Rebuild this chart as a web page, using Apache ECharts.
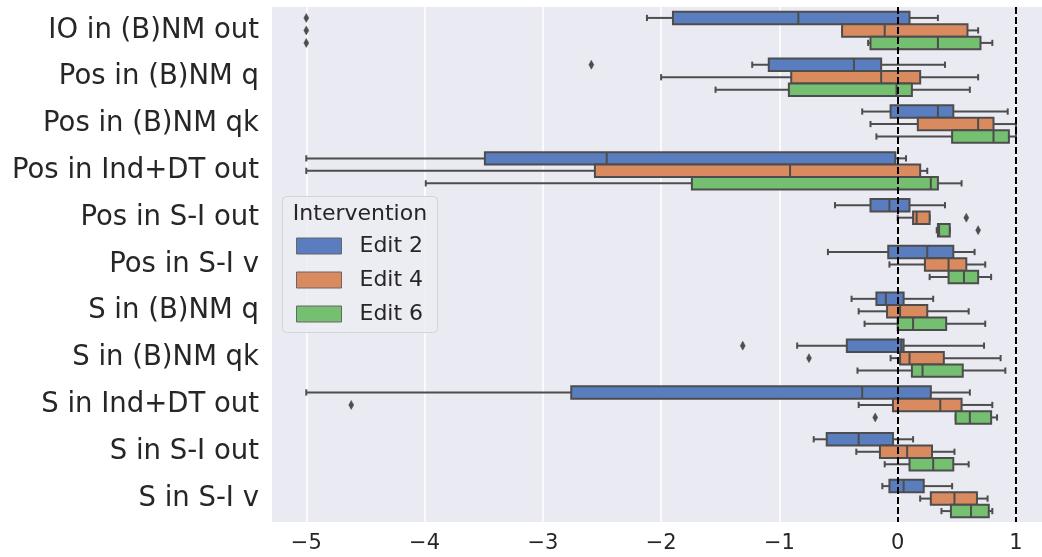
<!DOCTYPE html>
<html>
<head>
<meta charset="utf-8">
<script src="https://cdn.jsdelivr.net/npm/echarts@6/dist/echarts.min.js"></script>
<style>
html,body{margin:0;padding:0;background:#fff;}
#chart{width:1042px;height:557px;}
</style>
</head>
<body>
<div id="chart"></div>
<script>
const categories = [
  'IO in (B)NM out', 'Pos in (B)NM q', 'Pos in (B)NM qk', 'Pos in Ind+DT out',
  'Pos in S-I out', 'Pos in S-I v', 'S in (B)NM q', 'S in (B)NM qk',
  'S in Ind+DT out', 'S in S-I out', 'S in S-I v'
];
const hueNames = ['Edit 2', 'Edit 4', 'Edit 6'];
const xTicks = [-5, -4, -3, -2, -1, 0, 1];
const refLines = [0, 1];

// [low whisker, Q1, median, Q3, high whisker] per category
const edit2 = [
  [-2.12, -1.90, -0.84, 0.10, 0.34],
  [-1.23, -1.09, -0.37, -0.14, 0.40],
  [-0.30, -0.06, 0.34, 0.47, 0.93],
  [-5.00, -3.49, -2.46, -0.02, 0.07],
  [-0.53, -0.23, -0.07, 0.10, 0.40],
  [-0.59, -0.08, 0.25, 0.47, 0.65],
  [-0.39, -0.18, -0.10, 0.05, 0.30],
  [-0.85, -0.43, 0.03, 0.05, 0.73],
  [-5.00, -2.76, -0.30, 0.28, 0.61],
  [-0.71, -0.60, -0.33, -0.04, 0.13],
  [-0.13, -0.07, 0.05, 0.22, 0.46]
];
const edit4 = [
  [-0.47, -0.47, -0.11, 0.59, 0.68],
  [-2.00, -0.90, -0.14, 0.19, 0.68],
  [-0.23, 0.17, 0.68, 0.81, 1.00],
  [-5.00, -2.56, -0.91, 0.19, 0.25],
  [0.00, 0.13, 0.16, 0.27, 0.27],
  [-0.07, 0.23, 0.43, 0.58, 0.74],
  [-0.33, -0.09, 0.02, 0.25, 0.60],
  [-0.06, 0.02, 0.10, 0.39, 0.87],
  [-0.33, -0.04, 0.36, 0.54, 0.80],
  [-0.35, -0.15, 0.08, 0.29, 0.48],
  [0.19, 0.28, 0.48, 0.67, 0.76]
];
const edit6 = [
  [-0.25, -0.23, 0.34, 0.70, 0.80],
  [-1.54, -0.92, -0.01, 0.12, 0.61],
  [-0.18, 0.46, 0.81, 0.94, 1.00],
  [-3.99, -1.74, 0.28, 0.34, 0.54],
  [0.33, 0.34, 0.35, 0.44, 0.44],
  [0.27, 0.43, 0.56, 0.68, 0.79],
  [-0.28, 0.00, 0.13, 0.41, 0.74],
  [-0.34, 0.12, 0.21, 0.55, 0.91],
  [0.49, 0.49, 0.61, 0.79, 0.84],
  [-0.11, 0.10, 0.30, 0.47, 0.60],
  [0.37, 0.45, 0.62, 0.77, 0.80]
];
// outliers: [category index, value]
const outliers2 = [[0, -5.00], [1, -2.59], [7, -1.31]];
const outliers4 = [[0, -5.00], [4, 0.58], [7, -0.75], [8, -4.62]];
const outliers6 = [[0, -5.00], [4, 0.68], [8, -0.19]];

const colors = ['#597DBF', '#D98B5F', '#75BF71'];
const lineGray = '#4D4D4D';
const FONT = 'DejaVu Sans';

function boxRender(hue) {
  return function (params, api) {
    const cat = api.value(0);
    const v = [api.value(1), api.value(2), api.value(3), api.value(4), api.value(5)];
    const band = api.size([0, 1])[1];
    const h = band * 0.8 / 3;
    const yc = api.coord([0, cat])[1] + (hue - 1) * h;
    const px = v.map(function (d) { return api.coord([d, cat])[0]; });
    const cap = h / 2;
    const ls = { stroke: lineGray, lineWidth: 2, fill: null };
    return {
      type: 'group',
      children: [
        { type: 'line', shape: { x1: px[0], y1: yc, x2: px[1], y2: yc }, style: ls },
        { type: 'line', shape: { x1: px[3], y1: yc, x2: px[4], y2: yc }, style: ls },
        { type: 'line', shape: { x1: px[0], y1: yc - cap / 2, x2: px[0], y2: yc + cap / 2 }, style: ls },
        { type: 'line', shape: { x1: px[4], y1: yc - cap / 2, x2: px[4], y2: yc + cap / 2 }, style: ls },
        { type: 'rect', shape: { x: px[1], y: yc - h / 2, width: px[3] - px[1], height: h },
          style: { fill: colors[hue], stroke: lineGray, lineWidth: 2 } },
        { type: 'line', shape: { x1: px[2], y1: yc - h / 2, x2: px[2], y2: yc + h / 2 }, style: ls }
      ]
    };
  };
}
function outlierRender(hue) {
  return function (params, api) {
    const cat = api.value(0);
    const band = api.size([0, 1])[1];
    const h = band * 0.8 / 3;
    const p = api.coord([api.value(1), cat]);
    const y = p[1] + (hue - 1) * h;
    const x = p[0];
    return {
      type: 'polygon',
      shape: { points: [[x, y - 4.5], [x + 2.5, y], [x, y + 4.5], [x - 2.5, y]] },
      style: { fill: lineGray, stroke: lineGray, lineWidth: 0.5 }
    };
  };
}
function boxData(arr) {
  return arr.map(function (d, i) { return [i].concat(d); });
}

const boxSets = [edit2, edit4, edit6];
const outSets = [outliers2, outliers4, outliers6];
const series = [];
boxSets.forEach(function (set, hue) {
  series.push({
    type: 'custom', name: hueNames[hue],
    renderItem: boxRender(hue),
    encode: { x: [1, 2, 3, 4, 5], y: 0 },
    itemStyle: { color: colors[hue] },
    data: boxData(set), z: 3, silent: true
  });
});
outSets.forEach(function (set, hue) {
  series.push({
    type: 'custom', name: hueNames[hue],
    renderItem: outlierRender(hue),
    encode: { x: 1, y: 0 },
    itemStyle: { color: colors[hue] },
    data: set.map(function (d) { return [d[0], d[1]]; }), z: 3, silent: true
  });
});
series.push({
  type: 'line', name: 'ref', data: [], z: 10, silent: true,
  markLine: {
    symbol: 'none', silent: true, label: { show: false },
    lineStyle: { color: '#000', width: 2, type: [7, 3] },
    data: refLines.map(function (v) { return { xAxis: v }; })
  }
});

const chart = echarts.init(document.getElementById('chart'));
chart.setOption({
  animation: false,
  backgroundColor: '#ffffff',
  grid: { left: 272, right: 0, top: 7, bottom: 35, show: true, backgroundColor: '#EAEAF2', borderWidth: 0 },
  xAxis: {
    type: 'value', min: -5.29, max: 1.22,
    axisLine: { show: false },
    axisTick: { show: false, customValues: xTicks },
    axisLabel: {
      customValues: xTicks, fontSize: 21, color: '#262626', fontFamily: FONT, margin: 11,
      formatter: function (v) { return String(v).replace('-', '\u2212'); }
    },
    splitLine: { show: true, lineStyle: { color: '#ffffff', width: 1.5 } }
  },
  yAxis: {
    type: 'category', data: categories, inverse: true,
    axisLine: { show: false }, axisTick: { show: false },
    axisLabel: { fontSize: 27.5, color: '#262626', fontFamily: FONT, margin: 13 },
    splitLine: { show: false }
  },
  legend: {
    data: hueNames, orient: 'vertical', left: 296, top: 235, padding: 0, z: 80,
    itemWidth: 45, itemHeight: 16, itemGap: 12, icon: 'rect',
    itemStyle: { borderColor: '#666666', borderWidth: 1 },
    textStyle: { fontSize: 22, color: '#262626', fontFamily: FONT, lineHeight: 16, padding: [0, 0, 0, 13] }
  },
  graphic: [
    { type: 'rect', left: 282, top: 196, z: 40, shape: { width: 155, height: 136, r: 4 },
      style: { fill: 'rgba(236,236,243,0.9)', stroke: '#D3D3DA', lineWidth: 1 } },
    { type: 'text', x: 360, y: 214, z: 41,
      style: { text: 'Intervention', fontSize: 22, fill: '#262626', fontFamily: FONT, align: 'center', verticalAlign: 'middle' } }
  ],
  series: series
});
</script>
</body>
</html>
